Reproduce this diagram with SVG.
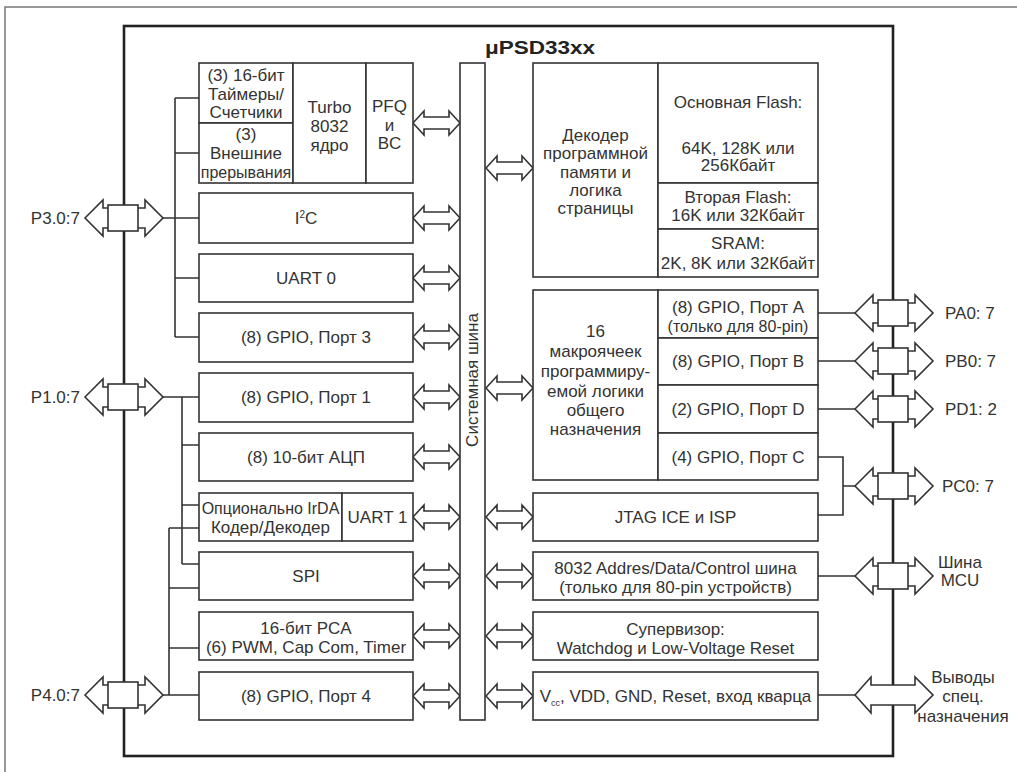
<svg xmlns="http://www.w3.org/2000/svg" xmlns:xlink="http://www.w3.org/1999/xlink" width="1017" height="772" viewBox="0 0 1017 772">
<style>
  text { font-family: "Liberation Sans", Arial, sans-serif; font-size: 17px; fill: #333; text-anchor: middle; }
  .sm { font-size: 16px; }
  .lbl { text-anchor: start; }
  .rl { text-anchor: end; }
  .box { fill: #fff; stroke: #333; stroke-width: 1.6; }
  .ln { fill: none; stroke: #333; stroke-width: 1.6; }
  .arr { fill: #fff; stroke: #333; stroke-width: 1.6; stroke-linejoin: miter; }
  .chip { fill: none; stroke: #222; stroke-width: 2.6; }
  .title { font-weight: bold; font-size: 19px; fill: #222; }
</style>
<defs>
  <polygon id="ba" class="arr" points="0,0 11,-12 11,-6 36,-6 36,-12 47,0 36,12 36,6 11,6 11,12"/>
  <g id="port">
    <polygon class="arr" points="-38,0 -20,-18 -20,-10 22,-10 22,-18 40,0 22,18 22,10 -20,10 -20,18"/>
    <rect class="box" x="-15" y="-13" width="30" height="26"/>
  </g>
</defs>
<rect width="1017" height="772" fill="#fff"/>
<path d="M5,772 V7 H1017" fill="none" stroke="#777" stroke-width="1.5"/>

<g id="chip">
  <rect class="chip" x="124" y="26" width="769" height="730"/>
  <text class="title" x="540" y="54" textLength="110" lengthAdjust="spacingAndGlyphs">μPSD33xx</text>
</g>

<g id="connectors">
  <path class="ln" d="M175,98 V337 M175,98 H199 M175,153 H199 M163,218 H199 M175,278 H199 M175,337 H199"/>
  <path class="ln" d="M163,397 H199 M182,397 V564 M182,445 H199 M182,505 H199 M182,564 H199"/>
  <path class="ln" d="M163,695 H199 M169,528 V695 M169,528 H199 M169,588 H199 M169,648 H199"/>
  <path class="ln" d="M818,313 H855 M818,361 H855 M818,409 H855 M818,457 H843 V515 H818 M843,486 H855 M818,576 H855 M818,695 H855"/>
  <use xlink:href="#ba" x="413" y="123"/>
  <use xlink:href="#ba" x="413" y="218"/>
  <use xlink:href="#ba" x="413" y="278"/>
  <use xlink:href="#ba" x="413" y="337"/>
  <use xlink:href="#ba" x="413" y="397"/>
  <use xlink:href="#ba" x="413" y="457"/>
  <use xlink:href="#ba" x="413" y="517"/>
  <use xlink:href="#ba" x="413" y="576"/>
  <use xlink:href="#ba" x="413" y="636"/>
  <use xlink:href="#ba" x="413" y="696"/>
  <use xlink:href="#ba" x="486" y="168"/>
  <use xlink:href="#ba" x="486" y="388"/>
  <use xlink:href="#ba" x="486" y="517"/>
  <use xlink:href="#ba" x="486" y="576"/>
  <use xlink:href="#ba" x="486" y="636"/>
  <use xlink:href="#ba" x="486" y="696"/>
</g>

<g id="ports">
  <g id="port-p3"><use xlink:href="#port" x="123" y="218"/><text class="rl" x="80" y="224">P3.0:7</text></g>
  <g id="port-p1"><use xlink:href="#port" x="123" y="397"/><text class="rl" x="80" y="403">P1.0:7</text></g>
  <g id="port-p4"><use xlink:href="#port" x="123" y="695"/><text class="rl" x="80" y="701">P4.0:7</text></g>
  <g id="port-pa"><use xlink:href="#port" x="893" y="313"/><text class="lbl" x="945" y="319">PA0: 7</text></g>
  <g id="port-pb"><use xlink:href="#port" x="893" y="361"/><text class="lbl" x="945" y="367">PB0: 7</text></g>
  <g id="port-pd"><use xlink:href="#port" x="893" y="409"/><text class="lbl" x="945" y="415">PD1: 2</text></g>
  <g id="port-pc"><use xlink:href="#port" x="893" y="486"/><text class="lbl" x="942" y="492">PC0: 7</text></g>
  <g id="port-mcu"><use xlink:href="#port" x="893" y="576"/><text x="960" y="568">Шина</text><text x="960" y="586">MCU</text></g>
  <g id="port-special">
    <polygon class="arr" points="855,695 871,677 871,685 915,685 915,677 933,695 915,713 915,705 871,705 871,713"/>
    <text x="963" y="683">Выводы</text><text x="963" y="702">спец.</text><text x="963" y="722">назначения</text>
  </g>
</g>

<g id="bus">
  <rect class="box" x="460" y="63" width="25" height="657"/>
  <text transform="translate(478,380) rotate(-90)" x="0" y="0">Системная шина</text>
</g>

<g id="timers"><rect class="box" x="199" y="63" width="94" height="60"/>
  <text x="246" y="81">(3) 16-бит</text><text x="246" y="100">Таймеры/</text><text x="246" y="118">Счетчики</text></g>
<g id="interrupts"><rect class="box" x="199" y="123" width="94" height="60"/>
  <text x="246" y="140">(3)</text><text x="246" y="159">Внешние</text><text class="sm" x="246" y="178">прерывания</text></g>
<g id="turbo"><rect class="box" x="293" y="63" width="73" height="120"/>
  <text x="329.5" y="113">Turbo</text><text x="329.5" y="132">8032</text><text x="329.5" y="151">ядро</text></g>
<g id="pfq"><rect class="box" x="366" y="63" width="47" height="120"/>
  <text x="389.5" y="112">PFQ</text><text x="389.5" y="131">и</text><text x="389.5" y="149">BC</text></g>

<g id="i2c"><rect class="box" x="199" y="193" width="214" height="50"/>
  <text x="306" y="224">I<tspan font-size="10" dy="-6">2</tspan><tspan dy="6">C</tspan></text></g>
<g id="uart0"><rect class="box" x="199" y="254" width="214" height="48"/><text x="306" y="284">UART 0</text></g>
<g id="gpio3"><rect class="box" x="199" y="313" width="214" height="49"/><text x="306" y="343">(8) GPIO, Порт 3</text></g>
<g id="gpio1"><rect class="box" x="199" y="373" width="214" height="49"/><text x="306" y="403">(8) GPIO, Порт 1</text></g>
<g id="adc"><rect class="box" x="199" y="433" width="214" height="48"/><text x="306" y="463">(8) 10-бит АЦП</text></g>
<g id="irda"><rect class="box" x="199" y="493" width="143" height="48"/>
  <text class="sm" x="270.5" y="514">Опционально IrDA</text><text x="270.5" y="533">Кодер/Декодер</text></g>
<g id="uart1"><rect class="box" x="342" y="493" width="71" height="48"/><text x="377.5" y="523">UART 1</text></g>
<g id="spi"><rect class="box" x="199" y="552" width="214" height="48"/><text x="306" y="582">SPI</text></g>
<g id="pca"><rect class="box" x="199" y="612" width="214" height="48"/>
  <text x="306" y="634">16-бит PCA</text><text x="306" y="653">(6) PWM, Cap Com, Timer</text></g>
<g id="gpio4"><rect class="box" x="199" y="672" width="214" height="48"/><text x="306" y="702">(8) GPIO, Порт 4</text></g>

<g id="decoder"><rect class="box" x="533" y="63" width="125" height="214"/>
  <text x="595.5" y="141">Декодер</text><text x="595.5" y="159">программной</text><text x="595.5" y="178">памяти и</text><text x="595.5" y="196">логика</text><text x="595.5" y="214">страницы</text></g>
<g id="main-flash"><rect class="box" x="658" y="63" width="160" height="120"/>
  <text x="738" y="108">Основная Flash:</text><text x="738" y="154">64K, 128K или</text><text x="738" y="171">256Кбайт</text></g>
<g id="second-flash"><rect class="box" x="658" y="183" width="160" height="46"/>
  <text x="738" y="203">Вторая Flash:</text><text x="738" y="221">16K или 32Кбайт</text></g>
<g id="sram"><rect class="box" x="658" y="229" width="160" height="48"/>
  <text x="738" y="249">SRAM:</text><text x="738" y="269">2K, 8K или 32Кбайт</text></g>

<g id="pld"><rect class="box" x="533" y="290" width="125" height="190"/>
  <text x="595.5" y="337">16</text><text x="595.5" y="357">макроячеек</text><text x="595.5" y="377">программиру-</text><text x="595.5" y="397">емой логики</text><text x="595.5" y="416">общего</text><text x="595.5" y="435">назначения</text></g>
<g id="port-a"><rect class="box" x="658" y="290" width="160" height="48"/>
  <text x="738" y="313">(8) GPIO, Порт A</text><text class="sm" x="738" y="332">(только для 80-pin)</text></g>
<g id="port-b"><rect class="box" x="658" y="338" width="160" height="47"/><text x="738" y="367">(8) GPIO, Порт B</text></g>
<g id="port-d"><rect class="box" x="658" y="385" width="160" height="48"/><text x="738" y="415">(2) GPIO, Порт D</text></g>
<g id="port-c"><rect class="box" x="658" y="433" width="160" height="47"/><text x="738" y="463">(4) GPIO, Порт C</text></g>

<g id="jtag"><rect class="box" x="533" y="493" width="285" height="48"/><text x="675.5" y="523">JTAG ICE и ISP</text></g>
<g id="addr-bus"><rect class="box" x="533" y="552" width="285" height="48"/>
  <text x="675.5" y="574">8032 Addres/Data/Control шина</text><text x="675.5" y="593">(только для 80-pin устройств)</text></g>
<g id="supervisor"><rect class="box" x="533" y="612" width="285" height="48"/>
  <text x="675.5" y="635">Супервизор:</text><text x="675.5" y="654">Watchdog и Low-Voltage Reset</text></g>
<g id="power"><rect class="box" x="533" y="672" width="285" height="48"/>
  <text x="675.5" y="702">V<tspan font-size="9" dy="4">cc</tspan><tspan dy="-4">, VDD, GND, Reset, вход кварца</tspan></text></g>
</svg>
